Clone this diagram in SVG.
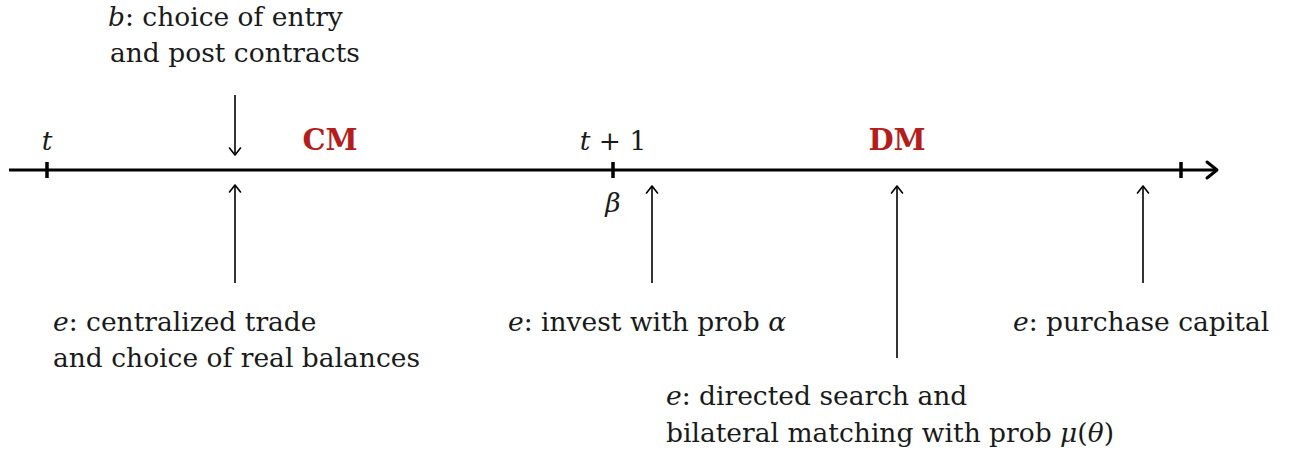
<svg xmlns="http://www.w3.org/2000/svg" width="1289" height="455" viewBox="0 0 1289 455">
<style>
text { font-family: "DejaVu Serif", "Liberation Serif", serif; font-size: 26.5px; fill: #1a1a1a; }
.it { font-style: italic; }
.red { fill: #b51c1c; font-weight: bold; font-size: 29px; }
.axis { stroke: #000; stroke-width: 3; fill: none; }
.tick { stroke: #000; stroke-width: 3.5; }
.arr { stroke: #000; stroke-width: 1.6; fill: none; marker-end: url(#thin); }
</style>
<defs>
<marker id="thin" viewBox="-10 -10 20 20" refX="0" refY="0" markerWidth="20" markerHeight="20" markerUnits="userSpaceOnUse" orient="auto" overflow="visible">
<path d="M -7 -5.5 L 0 0 L -7 5.5" fill="none" stroke="#000" stroke-width="1.6" stroke-linecap="round" stroke-linejoin="round"/>
</marker>
<marker id="thick" viewBox="-12 -12 24 24" refX="0" refY="0" markerWidth="24" markerHeight="24" markerUnits="userSpaceOnUse" orient="auto" overflow="visible">
<path d="M -10 -8 L 0 0 L -10 8" fill="none" stroke="#000" stroke-width="3" stroke-linecap="round" stroke-linejoin="round"/>
</marker>
</defs>
<g id="connectors">
<line class="axis" x1="9" y1="170" x2="1217" y2="170" marker-end="url(#thick)"/>
<line class="tick" x1="47" y1="162" x2="47" y2="178"/>
<line class="tick" x1="613" y1="162" x2="613" y2="178"/>
<line class="tick" x1="1181" y1="162" x2="1181" y2="178"/>
<line class="arr" x1="235" y1="95" x2="235" y2="155"/>
<line class="arr" x1="235" y1="283" x2="235" y2="185"/>
<line class="arr" x1="652" y1="283" x2="652" y2="186"/>
<line class="arr" x1="897" y1="358" x2="897" y2="186"/>
<line class="arr" x1="1143" y1="283" x2="1143" y2="186"/>
</g>
<g id="t">
<text x="47" y="150" text-anchor="middle" class="it">t</text>
</g>
<g id="cm">
<text x="330" y="150" text-anchor="middle" class="red">CM</text>
</g>
<g id="t1">
<text x="613" y="150" text-anchor="middle"><tspan class="it">t</tspan> + 1</text>
</g>
<g id="dm">
<text x="897" y="150" text-anchor="middle" class="red">DM</text>
</g>
<g id="beta">
<text x="613" y="212" text-anchor="middle" class="it">β</text>
</g>
<g id="b-choice">
<text x="108" y="26"><tspan class="it">b</tspan>: choice of entry</text>
<text x="110" y="62">and post contracts</text>
</g>
<g id="e-centralized">
<text x="53" y="331"><tspan class="it">e</tspan>: centralized trade</text>
<text x="53" y="367">and choice of real balances</text>
</g>
<g id="e-invest">
<text x="508" y="331"><tspan class="it">e</tspan>: invest with prob <tspan class="it">α</tspan></text>
</g>
<g id="e-directed">
<text x="666" y="405"><tspan class="it">e</tspan>: directed search and</text>
<text x="666" y="442">bilateral matching with prob <tspan class="it">μ</tspan>(<tspan class="it">θ</tspan>)</text>
</g>
<g id="e-purchase">
<text x="1013" y="331"><tspan class="it">e</tspan>: purchase capital</text>
</g>
</svg>
